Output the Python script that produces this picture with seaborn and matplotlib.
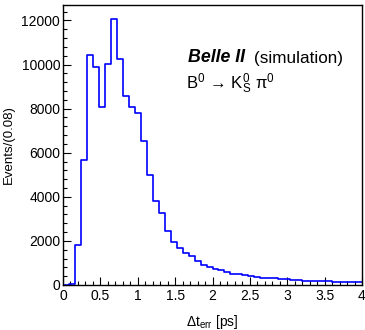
import numpy as np
import pandas as pd
import matplotlib
matplotlib.use("Agg")
import matplotlib.pyplot as plt
import seaborn as sns
from matplotlib.ticker import MultipleLocator

# Histogram data: bin width 0.08 ps, range 0-4 ps
bin_width = 0.08
x_min, x_max = 0.0, 4.0
counts = [0, 50, 1800, 5650, 10450, 9890, 8080, 10040, 12050, 10250,
          8560, 8080, 7780, 6520, 5010, 3800, 3250, 2460, 1960, 1680,
          1435, 1310, 1100, 905, 830, 725, 680, 590, 510, 480,
          440, 410, 370, 340, 320, 295, 270, 250, 230, 215,
          200, 190, 180, 170, 160, 150, 145, 140, 130, 125]

edges = np.linspace(x_min, x_max, len(counts) + 1)
centers = (edges[:-1] + edges[1:]) / 2
df = pd.DataFrame({"dt": centers, "n": counts})

sns.set_style("ticks")
plt.rcParams["font.family"] = ["Liberation Sans", "DejaVu Sans"]
plt.rcParams["mathtext.fontset"] = "custom"
plt.rcParams["mathtext.rm"] = "Liberation Sans"
plt.rcParams["mathtext.it"] = "Liberation Sans:italic"
plt.rcParams["mathtext.bf"] = "Liberation Sans:bold"
plt.rcParams["text.color"] = "black"
plt.rcParams["axes.labelcolor"] = "black"

fig = plt.figure(figsize=(3.65, 3.3), dpi=100)
ax = fig.add_axes([63 / 365, 45 / 330, 299 / 365, 280 / 330])

sns.histplot(data=df, x="dt", weights="n", binwidth=bin_width,
             binrange=(x_min, x_max), element="step",
             fill=False, color="#0000ff", linewidth=1.2, ax=ax)

ax.set_xlim(x_min, x_max)
ax.set_ylim(0, 12700)
ax.xaxis.set_major_locator(MultipleLocator(0.5))
ax.xaxis.set_minor_locator(MultipleLocator(0.1))
ax.yaxis.set_major_locator(MultipleLocator(2000))
ax.yaxis.set_minor_locator(MultipleLocator(400))
ax.set_xticks([0, 0.5, 1, 1.5, 2, 2.5, 3, 3.5, 4])
ax.set_xticklabels(["0", "0.5", "1", "1.5", "2", "2.5", "3", "3.5", "4"])

ax.tick_params(axis="both", which="major", direction="in", length=6, width=0.8,
               labelsize=10, colors="black")
ax.tick_params(axis="both", which="minor", direction="in", length=3, width=0.8,
               colors="black")
ax.tick_params(axis="x", pad=3)
ax.tick_params(axis="y", pad=2)
for s in ax.spines.values():
    s.set_visible(True)
    s.set_linewidth(1.0)
    s.set_color("black")

ax.set_xlabel(r"$\Delta$t$_{\rm err}$ [ps]", fontsize=10, labelpad=7, color="black")
ax.set_ylabel("Events/(0.08)", fontsize=9.5, labelpad=5, color="black")

ax.text(188 / 365, 1 - 58 / 330, "Belle II", transform=fig.transFigure,
        fontsize=12.8, fontweight="bold", fontstyle="italic", va="center", ha="left",
        color="black")
ax.text(254 / 365, 1 - 58 / 330, "(simulation)", transform=fig.transFigure,
        fontsize=12.3, va="center", ha="left", color="black")
ax.text(186 / 365, 1 - 84 / 330, r"B$^{0}$$\,\rightarrow\,$K$^{0}_{\rm S}$ π$^{0}$",
        transform=fig.transFigure, fontsize=12, va="center", ha="left",
        color="black")

fig.savefig("out.png", dpi=100)
